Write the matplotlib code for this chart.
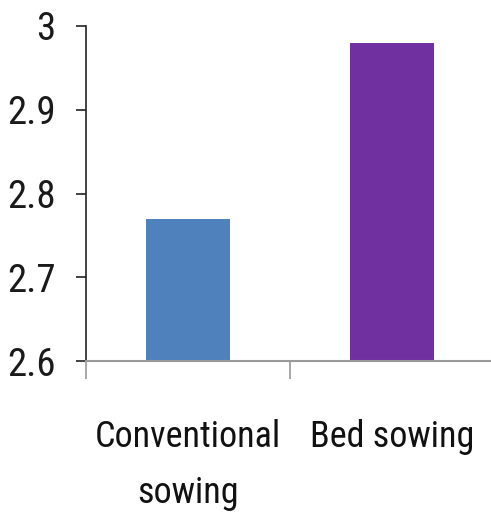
import matplotlib
matplotlib.use("Agg")
import matplotlib.pyplot as plt

categories = ["Conventional\nsowing", "Bed sowing"]
values = [2.77, 2.98]
colors = ["#4F81BD", "#7030A0"]
yticks = [2.6, 2.7, 2.8, 2.9, 3.0]
ytick_labels = ["2.6", "2.7", "2.8", "2.9", "3"]

plt.rcParams["font.family"] = ["Roboto Condensed", "DejaVu Sans"]
plt.rcParams["font.weight"] = "normal"

W, H = 491, 514
fig = plt.figure(figsize=(W / 100, H / 100), dpi=100)
ax = fig.add_axes([86 / W, (H - 361) / H, (494 - 86) / W, (361 - 26) / H])

x = [0, 1]
ax.bar(x, values, width=0.41, color=colors, edgecolor="none", zorder=2)
ax.set_xlim(-0.5, 1.5)
ax.set_ylim(2.6, 3.0)

ax.set_yticks(yticks)
ax.set_yticklabels(ytick_labels, fontsize=28, color="#1a1a1a")
ax.tick_params(axis="y", direction="out", length=7, width=1.2, color="#222222", pad=15)

ax.set_xticks(x)
ax.set_xticklabels(categories, fontsize=26, color="#111111", linespacing=1.7)
ax.tick_params(axis="x", which="major", length=0, pad=42)
ax.set_xticks([-0.5, 0.5, 1.5], minor=True)
ax.tick_params(axis="x", which="minor", direction="out", length=13, width=1.2, color="#999999")

for s in ("top", "right"):
    ax.spines[s].set_visible(False)
ax.spines["left"].set_color("#222222")
ax.spines["left"].set_linewidth(1.2)
ax.spines["bottom"].set_color("#999999")
ax.spines["bottom"].set_linewidth(1.5)

fig.savefig("out.png", dpi=100)
